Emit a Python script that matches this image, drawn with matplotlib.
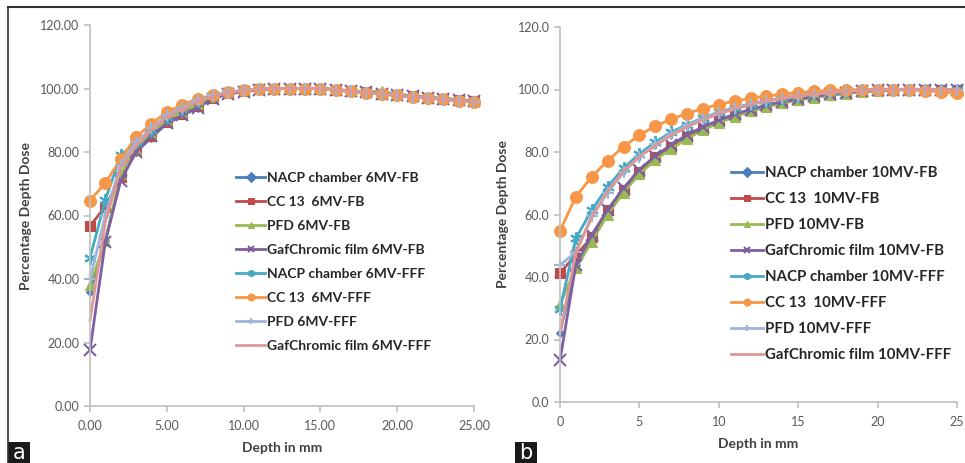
import matplotlib
matplotlib.use("Agg")
import matplotlib.pyplot as plt
from matplotlib.lines import Line2D
from matplotlib.patches import Rectangle

plt.rcParams['font.family'] = ['Lato', 'DejaVu Sans']

depth = list(range(0, 26))

# ---- 6 MV data ----
nacp_fb_6 = [36.0, 52.0, 72.0, 80.0, 84.5, 89.0, 91.5, 94.0, 97.0, 98.5, 99.2, 99.7, 100.0, 100.0, 100.0, 100.0,
             99.6, 99.2, 98.8, 98.4, 97.9, 97.5, 97.1, 96.8, 96.4, 96.0]
cc13_fb_6 = [56.7, 62.8, 72.2, 80.5, 85.0, 89.5, 92.0, 94.5, 97.0, 98.5, 99.2, 99.7, 100.0, 100.0, 100.0, 100.0,
             99.6, 99.2, 98.8, 98.4, 97.9, 97.5, 97.1, 96.8, 96.4, 96.0]
pfd_fb_6 = [38.0, 52.0, 73.0, 81.0, 86.0, 90.0, 92.5, 95.0, 97.2, 98.6, 99.3, 99.8, 100.0, 100.0, 100.0, 100.0,
            99.7, 99.3, 99.0, 99.1, 98.2, 97.7, 97.2, 96.9, 96.5, 96.1]
gaf_fb_6 = [17.6, 51.8, 71.0, 80.0, 85.0, 89.0, 91.5, 94.0, 96.8, 98.3, 99.0, 99.6, 100.0, 100.0, 100.0, 100.0,
            99.6, 99.2, 98.8, 98.4, 97.9, 97.5, 97.1, 96.8, 96.4, 96.0]
nacp_fff_6 = [46.6, 65.0, 79.0, 83.0, 87.0, 91.0, 93.5, 96.0, 97.8, 98.8, 99.4, 99.8, 100.0, 100.0, 100.0, 100.0,
              99.5, 99.1, 98.7, 98.3, 97.8, 97.4, 97.0, 96.6, 96.2, 95.8]
cc13_fff_6 = [64.7, 70.3, 77.7, 84.8, 88.8, 92.7, 94.8, 96.8, 97.8, 98.8, 99.4, 99.8, 100.0, 100.0, 100.0, 100.0,
              99.5, 99.1, 98.7, 98.3, 97.8, 97.4, 97.0, 96.6, 96.2, 95.8]
pfd_fff_6 = [40.0, 60.0, 76.0, 83.0, 87.5, 91.5, 94.0, 96.3, 97.8, 98.8, 99.4, 99.8, 100.0, 100.0, 100.0, 100.0,
             99.5, 99.1, 98.7, 98.3, 97.8, 97.4, 97.0, 96.6, 96.2, 95.8]
gaf_fff_6 = [27.0, 58.0, 75.0, 82.0, 87.0, 91.0, 93.5, 96.0, 97.6, 98.7, 99.3, 99.8, 100.0, 100.0, 100.0, 100.0,
             99.5, 99.1, 98.7, 98.3, 97.8, 97.4, 97.0, 96.6, 96.2, 95.8]

# ---- 10 MV data ----
nacp_fb_10 = [22.2, 44.0, 53.0, 61.0, 68.0, 74.0, 78.5, 82.0, 85.2, 87.8, 90.0, 92.0, 93.5, 94.9, 96.0, 97.0,
              97.8, 98.5, 99.0, 99.4, 99.7, 99.9, 100.0, 100.0, 100.0, 100.0]
cc13_fb_10 = [41.4, 47.0, 52.7, 61.4, 67.8, 73.7, 78.5, 81.7, 84.9, 87.5, 89.8, 91.7, 93.3, 94.7, 95.8, 96.8,
              97.6, 98.3, 98.9, 99.4, 99.7, 99.9, 100.0, 100.0, 100.0, 100.0]
pfd_fb_10 = [31.4, 42.8, 51.3, 60.0, 67.0, 73.0, 77.5, 81.0, 84.3, 87.0, 89.3, 91.3, 93.0, 94.4, 95.6, 96.6,
             97.4, 98.1, 98.7, 99.2, 99.6, 99.8, 100.0, 100.0, 100.0, 100.0]
gaf_fb_10 = [13.4, 44.0, 53.5, 61.5, 68.5, 74.3, 78.8, 82.3, 85.5, 88.0, 90.2, 92.1, 93.6, 95.0, 96.1, 97.0,
             97.8, 98.5, 99.0, 99.4, 99.7, 99.9, 100.0, 100.0, 100.0, 100.0]
nacp_fff_10 = [29.7, 52.4, 61.4, 68.9, 74.8, 79.4, 83.2, 86.3, 88.8, 90.9, 92.7, 94.2, 95.4, 96.4, 97.3, 98.0,
               98.6, 99.1, 99.5, 99.8, 100.0, 100.0, 100.0, 100.0, 100.0, 99.8]
cc13_fff_10 = [54.8, 65.7, 72.1, 77.2, 81.7, 85.4, 88.3, 90.5, 92.3, 93.9, 95.2, 96.3, 97.2, 97.9, 98.5, 99.0,
               99.4, 99.7, 99.9, 100.0, 100.0, 100.0, 99.9, 99.6, 99.3, 98.8]
pfd_fff_10 = [43.8, 48.0, 59.5, 67.0, 73.5, 78.5, 82.5, 85.8, 88.5, 90.7, 92.5, 94.0, 95.3, 96.3, 97.2, 97.9,
              98.5, 99.0, 99.4, 99.7, 99.9, 100.0, 100.0, 100.0, 100.0, 99.9]
gaf_fff_10 = [22.0, 48.0, 59.0, 67.5, 74.0, 78.5, 82.0, 85.3, 88.0, 90.3, 92.2, 93.8, 95.1, 96.2, 97.1, 97.9,
              98.5, 99.0, 99.4, 99.7, 99.9, 100.0, 100.0, 100.0, 100.0, 99.9]

labels_6 = ["NACP chamber 6MV-FB", "CC 13  6MV-FB", "PFD 6MV-FB", "GafChromic film 6MV-FB",
            "NACP chamber 6MV-FFF", "CC 13  6MV-FFF", "PFD 6MV-FFF", "GafChromic film 6MV-FFF"]
labels_10 = ["NACP chamber 10MV-FB", "CC 13  10MV-FB", "PFD 10MV-FB", "GafChromic film 10MV-FB",
             "NACP chamber 10MV-FFF", "CC 13  10MV-FFF", "PFD 10MV-FFF", "GafChromic film 10MV-FFF"]
series_6 = [nacp_fb_6, cc13_fb_6, pfd_fb_6, gaf_fb_6, nacp_fff_6, cc13_fff_6, pfd_fff_6, gaf_fff_6]
series_10 = [nacp_fb_10, cc13_fb_10, pfd_fb_10, gaf_fb_10, nacp_fff_10, cc13_fff_10, pfd_fff_10, gaf_fff_10]

colors = ["#4A7EBB", "#BE4B48", "#98B954", "#7D60A0", "#46AAC5", "#F79646", "#9DB5DA", "#DD9896"]
markers = ["D", "s", "^", "x", (6, 2, 0), "o", "+", None]
msizes = [4.5, 7.5, 7, 9, 9, 8.5, 8, 0]

W, H = 965, 463
fig = plt.figure(figsize=(W / 100, H / 100), dpi=100)

tick_col = "#595959"
spine_col = "#BFBFBF"


def make_axes(x0, x1, ytop, ybot, series, labels, yfmt, xfmt, leg_anchor, leg_fs, leg_sp):
    ax = fig.add_axes([x0 / W, (H - ybot) / H, (x1 - x0) / W, (ybot - ytop) / H])
    for s, lab, c, m, ms in zip(series, labels, colors, markers, msizes):
        ax.plot(depth, s, color=c, lw=2.0, marker=m, ms=ms, mew=1.5 if m in ("x", "+", (6, 2, 0)) else 0.8,
                label=lab, clip_on=False)
    ax.set_xlim(0, 25)
    ax.set_ylim(0, 120)
    ax.set_xticks(range(0, 26, 5))
    ax.set_yticks(range(0, 121, 20))
    ax.set_xticklabels([xfmt.format(v) for v in range(0, 26, 5)])
    ax.set_yticklabels([yfmt.format(v) for v in range(0, 121, 20)])
    for sp in ("top", "right"):
        ax.spines[sp].set_visible(False)
    for sp in ("left", "bottom"):
        ax.spines[sp].set_color(spine_col)
        ax.spines[sp].set_linewidth(1.2)
    ax.tick_params(axis="both", colors=spine_col, labelcolor=tick_col, labelsize=9, length=4, width=1.2)
    ax.tick_params(axis="x", pad=6)
    ax.set_xlabel("Depth in mm", fontsize=10, fontweight="bold", color="#404040", labelpad=7)
    ax.set_ylabel("Percentage Depth Dose", fontsize=10, fontweight="bold", color="#404040", labelpad=6)
    leg = ax.legend(loc="upper left", bbox_to_anchor=(leg_anchor[0] / W, 1 - leg_anchor[1] / H),
                    bbox_transform=fig.transFigure, frameon=False, fontsize=leg_fs, handlelength=2.1,
                    handletextpad=0.15, labelspacing=leg_sp, borderpad=0, borderaxespad=0)
    for t in leg.get_texts():
        t.set_fontweight("bold")
        t.set_color("#262626")
    for h in leg.legend_handles:
        h.set_markersize(5)
        h.set_linewidth(2)
    return ax


make_axes(90, 474, 25, 406, series_6, labels_6, "{:.2f}", "{:.2f}", (236, 172), 10, 0.86)
make_axes(560, 957, 27, 402, series_10, labels_10, "{:.1f}", "{:d}", (731, 166), 10.8, 0.8)

# frame lines
fig.add_artist(Line2D([8 / W, 1], [1 - 7 / H, 1 - 7 / H], transform=fig.transFigure, color="#333333", lw=1.5))
fig.add_artist(Line2D([8 / W, 8 / W], [0, 1 - 7 / H], transform=fig.transFigure, color="#333333", lw=1.2))

# panel labels
for x0, lab in ((8, "a"), (515, "b")):
    fig.add_artist(Rectangle((x0 / W, 0), 22 / W, 21 / H, transform=fig.transFigure,
                             facecolor="#1a1a1a", edgecolor="none"))
    fig.text((x0 + 11) / W, 10 / H, lab, color="white", fontsize=15, ha="center", va="center",
             family=["DejaVu Sans"])

fig.savefig("out.png", dpi=100, facecolor="white")
